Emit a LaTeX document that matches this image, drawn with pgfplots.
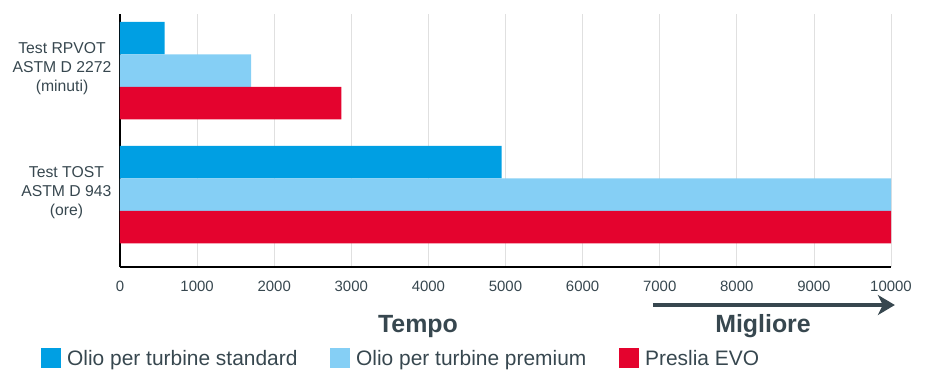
\documentclass[border=0pt]{standalone}
\usepackage{fontspec}
\setmainfont{Liberation Sans}
\usepackage{pgfplots}
\pgfplotsset{compat=1.18}
\usetikzlibrary{arrows.meta}
\definecolor{cstd}{HTML}{009FE3}
\definecolor{cprem}{HTML}{85CFF5}
\definecolor{cevo}{HTML}{E4032E}
\definecolor{txt}{HTML}{37474F}
\definecolor{gridc}{HTML}{E0E0E0}
\pgfplotsset{sq legend/.style={legend image code/.code={\fill[##1] (0bp,-2.5bp) rectangle (20bp,17.5bp);}}}
\begin{document}
\begin{tikzpicture}
\begin{axis}[
  scale only axis, width=771bp, height=252.7bp,
  xbar, bar width=0.262,
  xmin=0, xmax=10000, ymin=-0.581, ymax=1.457,
  xtick={0,1000,...,10000}, ytick={0,1},
  yticklabels={{Test TOST\\ASTM D 943\\(ore)},{Test RPVOT\\ASTM D 2272\\(minuti)}},
  axis x line*=bottom, axis y line*=left,
  axis line style={line width=1.8bp, black, -},
  major tick length=0pt,
  xmajorgrids, grid style={gridc, line width=0.8bp},
  /pgf/number format/assume math mode=true,
  /pgf/number format/1000 sep={},
  scaled x ticks=false,
  xticklabel style={font=\fontsize{15}{18}\selectfont, text=txt, yshift=-11bp},
  yticklabel style={font=\fontsize{15.8}{19.5}\selectfont, text=txt, align=center, xshift=-5bp, yshift=2bp},
  clip=false,
  legend columns=3,
  legend style={draw=none, fill=none, inner sep=0pt, nodes={inner sep=0pt}, cells={anchor=base west},
    at={(axis description cs:-0.1025,-0.3217)}, anchor=north west,
    font=\fontsize{21}{24}\selectfont, text=txt,
    /tikz/every odd column/.append style={column sep=6bp}},
]
\addplot[fill=cstd, draw=none, bar shift=0.262, sq legend] coordinates {(4950,0) (580,1)};
\addplot[fill=cprem, draw=none, bar shift=0, sq legend] coordinates {(10000,0) (1700,1)};
\addplot[fill=cevo, draw=none, bar shift=-0.262, sq legend] coordinates {(10000,0) (2870,1)};
\legend{\makebox[263bp][l]{Olio per turbine standard},\makebox[263bp][l]{Olio per turbine premium},Preslia EVO}
\node[anchor=base, font=\fontsize{25}{30}\selectfont\bfseries, text=txt] at (rel axis cs:0.3865,-0.2584) {Tempo};
\node[anchor=base, font=\fontsize{25}{30}\selectfont\bfseries, text=txt] at (rel axis cs:0.834,-0.2584) {Migliore};
\draw[txt, line width=4bp, -{Stealth[length=17bp,width=20bp,inset=5bp]}] (rel axis cs:0.6913,-0.1516) -- (rel axis cs:1.005,-0.1516);
\end{axis}
\pgfresetboundingbox
\path[use as bounding box] (-120bp,-105.3bp) rectangle (818bp,266.7bp);
\end{tikzpicture}
\end{document}
